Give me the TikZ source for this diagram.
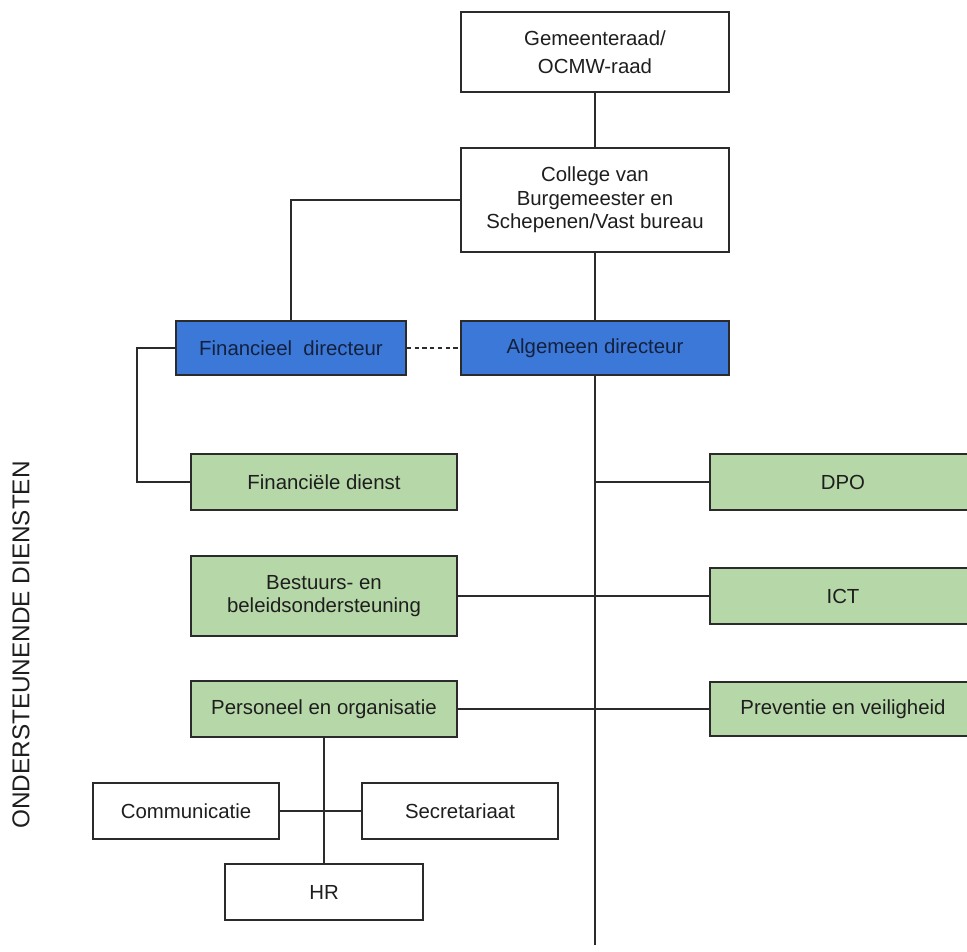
\documentclass[tikz,border=0pt]{standalone}
\usepackage{fontspec}
\setmainfont{Liberation Sans}
\definecolor{bluefill}{HTML}{3C78D8}
\definecolor{greenfill}{HTML}{B6D7A8}
\definecolor{linecol}{HTML}{2B2B2B}
\definecolor{txtcol}{HTML}{1E1E1E}
\definecolor{bluetxt}{HTML}{14213D}
\tikzset{
  basebox/.style={draw=linecol, line width=1.35pt, inner sep=2pt, align=center,
    text=txtcol, font=\fontsize{14.5}{16.6}\selectfont},
  wbox/.style={basebox, fill=white},
  bbox/.style={basebox, fill=bluefill, text=bluetxt},
  gbox/.style={basebox, fill=greenfill},
  conn/.style={draw=linecol, line width=1.3pt},
}
\begin{document}
\begin{tikzpicture}[x=0.025cm, y=-0.025cm]
\useasboundingbox (0,0) rectangle (967,952);
\clip (0,0) rectangle (967,952);
\fill[white] (0,0) rectangle (967,952);

% nodes
\node[wbox, minimum width=6.7cm, minimum height=2cm, font=\fontsize{14.5}{19.7}\selectfont] (gem) at (595,52) {Gemeenteraad/\\OCMW-raad};
\node[wbox, minimum width=6.7cm, minimum height=2.6cm] (col) at (595,200) {College van\\Burgemeester en\\Schepenen/Vast bureau};
\node[bbox, minimum width=5.75cm, minimum height=1.35cm] (fin) at (291,348) {Financieel\ \ directeur};
\node[bbox, minimum width=6.7cm, minimum height=1.35cm] (alg) at (595,348) {Algemeen directeur};
\node[gbox, minimum width=6.65cm, minimum height=1.4cm] (fd) at (324,482) {Financiële dienst};
\node[gbox, minimum width=6.65cm, minimum height=2cm] (bes) at (324,596) {Bestuurs- en\\beleidsondersteuning};
\node[gbox, minimum width=6.65cm, minimum height=1.4cm] (per) at (324,709) {Personeel en organisatie};
\node[gbox, minimum width=6.65cm, minimum height=1.4cm] (dpo) at (843,482) {DPO};
\node[gbox, minimum width=6.65cm, minimum height=1.4cm] (ict) at (843,596) {ICT};
\node[gbox, minimum width=6.65cm, minimum height=1.35cm] (pre) at (843,709) {Preventie en veiligheid};
\node[wbox, minimum width=4.65cm, minimum height=1.4cm] (com) at (186,811) {Communicatie};
\node[wbox, minimum width=4.9cm, minimum height=1.4cm] (sec) at (460,811) {Secretariaat};
\node[wbox, minimum width=4.95cm, minimum height=1.4cm] (hr) at (324,892) {HR};

\node[rotate=90, text=txtcol, font=\fontsize{17.3}{20}\selectfont] (side) at (21,645) {ONDERSTEUNENDE DIENSTEN};

\coordinate (mainend) at (595,945);
\coordinate (finleft) at (137,348);

% connectors
\draw[conn] (gem.south) -- (col.north);
\draw[conn] (col.west) -| (fin.north);
\draw[conn] (col.south) -- (alg.north);
\draw[conn, dash pattern=on 3pt off 2.5pt] (fin.east) -- (alg.west);
\draw[conn] (alg.south) -- (mainend);
\draw[conn] (fin.west) -- (finleft) |- (fd.west);
\draw[conn] (alg.south |- dpo.west) -- (dpo.west);
\draw[conn] (bes.east) -- (ict.west);
\draw[conn] (per.east) -- (pre.west);
\draw[conn] (per.south) -- (hr.north);
\draw[conn] (com.east) -- (sec.west);
\end{tikzpicture}
\end{document}
